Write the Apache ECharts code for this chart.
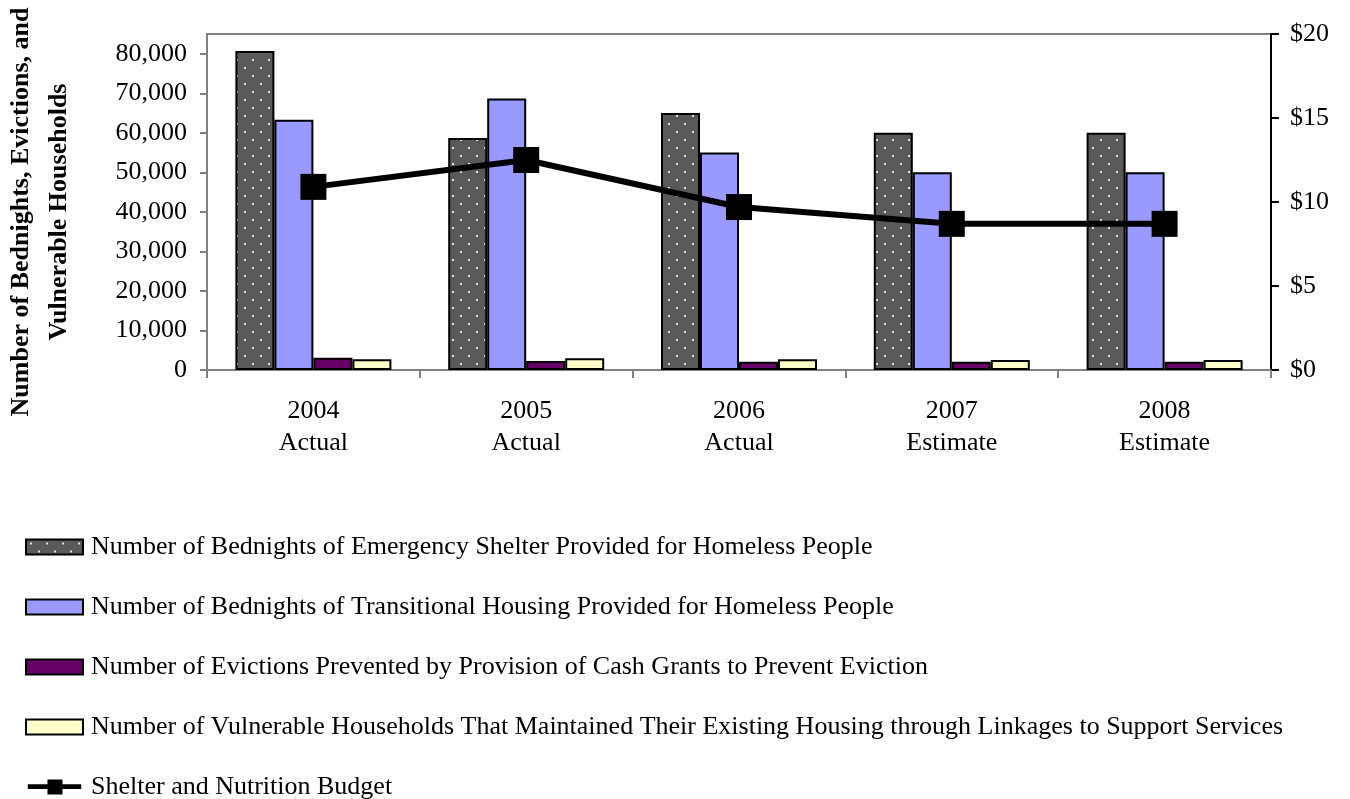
<!DOCTYPE html>
<html>
<head>
<meta charset="utf-8">
<script src="https://cdn.jsdelivr.net/npm/echarts@6/dist/echarts.min.js"></script>
<style>
  html, body { margin: 0; padding: 0; background: #ffffff; }
  #chart { width: 1350px; height: 799px; }
</style>
</head>
<body>
<div id="chart"></div>
<script>
// Fiscal years shown on the category axis
const categories = ['2004\nActual', '2005\nActual', '2006\nActual', '2007\nEstimate', '2008\nEstimate'];

// Bar series (left axis, counts)
const emergencyShelter = [80700, 58700, 65000, 60000, 60000];
const transitionalHousing = [63300, 68700, 55000, 50000, 50000];
const evictionsPrevented = [3100, 2300, 2100, 2100, 2100];
const vulnerableHouseholds = [2700, 3000, 2700, 2500, 2500];

// Line series (right axis, $ millions)
const budget = [10.9, 12.5, 9.7, 8.7, 8.7];

// Tick labels
const leftTicks = [0, 10000, 20000, 30000, 40000, 50000, 60000, 70000, 80000];
const rightTicks = [0, 5, 10, 15, 20];

const seriesNames = [
  'Number of Bednights of Emergency Shelter Provided for Homeless People',
  'Number of Bednights of Transitional Housing Provided for Homeless People',
  'Number of Evictions Prevented by Provision of Cash Grants to Prevent Eviction',
  'Number of Vulnerable Households That Maintained Their Existing Housing through Linkages to Support Services',
  'Shelter and Nutrition Budget'
];

const FONT = '"Liberation Serif", "Times New Roman", serif';

// Legend key for the budget line: thick stroke with a square marker in the middle
const LINE_KEY = 'path://M0,5 L21,5 L21,0 L37,0 L37,5 L57,5 L57,10 L37,10 L37,16 L21,16 L21,10 L0,10 Z';

// Dotted dark-grey fill for the emergency shelter bars
function dotPattern() {
  const c = document.createElement('canvas');
  c.width = 16; c.height = 16;
  const g = c.getContext('2d');
  g.fillStyle = '#595959';
  g.fillRect(0, 0, 16, 16);
  g.fillStyle = '#e0e0e0';
  g.fillRect(4, 3, 2, 2);
  g.fillRect(12, 11, 2, 2);
  return c;
}

const chart = echarts.init(document.getElementById('chart'));
const barBorder = { borderColor: '#000000', borderWidth: 2 };

chart.setOption({
  animation: false,
  textStyle: { fontFamily: FONT },
  grid: {
    left: 207, right: 79, top: 34, bottom: 429,
    show: true, borderColor: '#808080', borderWidth: 2
  },
  xAxis: {
    type: 'category',
    data: categories,
    axisLine: { lineStyle: { color: '#808080', width: 2 } },
    axisTick: { show: true, length: 8, lineStyle: { color: '#808080', width: 2 } },
    axisLabel: { color: '#000', fontFamily: FONT, fontSize: 26, lineHeight: 32, margin: 25 }
  },
  yAxis: [
    {
      type: 'value', min: 0, max: 85000,
      splitLine: { show: false },
      axisLine: { show: true, lineStyle: { color: '#808080', width: 2 } },
      axisTick: { show: true, length: 7, customValues: leftTicks, lineStyle: { color: '#808080', width: 2 } },
      axisLabel: {
        customValues: leftTicks,
        color: '#000', fontFamily: FONT, fontSize: 26, margin: 20,
        formatter: v => v.toLocaleString('en-US')
      }
    },
    {
      type: 'value', min: 0, max: 20, interval: 5, position: 'right',
      splitLine: { show: false },
      axisLine: { show: true, lineStyle: { color: '#000000', width: 2 } },
      axisTick: { show: true, length: 8, lineStyle: { color: '#000000', width: 2 } },
      axisLabel: {
        customValues: rightTicks,
        color: '#000', fontFamily: FONT, fontSize: 26, margin: 19,
        formatter: v => '$' + v
      }
    }
  ],
  legend: {
    orient: 'vertical',
    left: 25, top: 532, height: 300, padding: 0,
    itemWidth: 57, itemHeight: 15, itemGap: 30,
    textStyle: { color: '#000', fontFamily: FONT, fontSize: 26, lineHeight: 30, padding: [0, 0, 0, 3] },
    data: [
      { name: seriesNames[0], icon: 'rect' },
      { name: seriesNames[1], icon: 'rect' },
      { name: seriesNames[2], icon: 'rect' },
      { name: seriesNames[3], icon: 'rect' },
      { name: seriesNames[4], icon: LINE_KEY, itemStyle: { color: '#000', borderWidth: 0 } }
    ]
  },
  graphic: [{
    type: 'text',
    x: 40, y: 212,
    rotation: Math.PI / 2,
    style: {
      text: 'Number of Bednights, Evictions, and\nVulnerable Households',
      font: 'bold 26px ' + FONT,
      fill: '#000',
      align: 'center',
      verticalAlign: 'middle',
      lineHeight: 38
    }
  }],
  series: [
    {
      name: seriesNames[0], type: 'bar', data: emergencyShelter,
      barWidth: 39, barGap: '0%',
      itemStyle: Object.assign({ color: { image: dotPattern(), repeat: 'repeat' } }, barBorder)
    },
    {
      name: seriesNames[1], type: 'bar', data: transitionalHousing,
      barWidth: 39, barGap: '0%',
      itemStyle: Object.assign({ color: '#9999ff' }, barBorder)
    },
    {
      name: seriesNames[2], type: 'bar', data: evictionsPrevented,
      barWidth: 39, barGap: '0%',
      itemStyle: Object.assign({ color: '#660066' }, barBorder)
    },
    {
      name: seriesNames[3], type: 'bar', data: vulnerableHouseholds,
      barWidth: 39, barGap: '0%',
      itemStyle: Object.assign({ color: '#ffffcc' }, barBorder)
    },
    {
      name: seriesNames[4], type: 'line', yAxisIndex: 1, data: budget,
      symbol: 'rect', symbolSize: 26, z: 5,
      lineStyle: { color: '#000', width: 6 },
      itemStyle: { color: '#000' }
    }
  ]
});
</script>
</body>
</html>
